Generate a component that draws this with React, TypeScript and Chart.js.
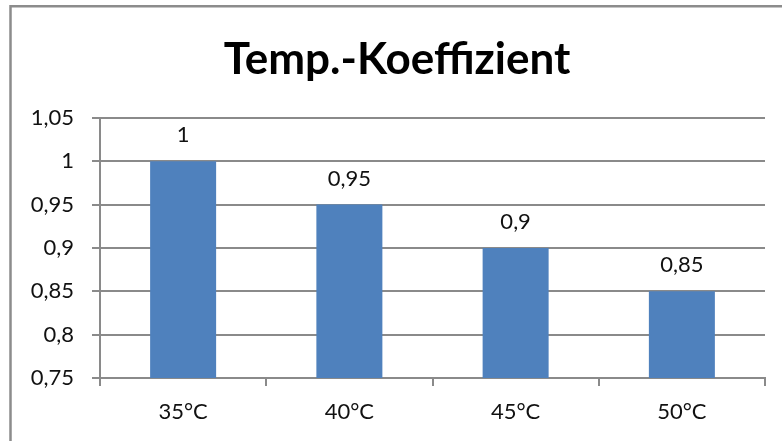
import React, { useEffect, useRef } from "react";
import { Chart, registerables } from "chart.js";

Chart.register(...registerables);

const categories = ["35°C", "40°C", "45°C", "50°C"];
const values = [1, 0.95, 0.9, 0.85];
const valueLabels = ["1", "0,95", "0,9", "0,85"];
const yTickValues = [0.75, 0.8, 0.85, 0.9, 0.95, 1, 1.05];
const yTickLabels = ["0,75", "0,8", "0,85", "0,9", "0,95", "1", "1,05"];
const titleText = "Temp.-Koeffizient";

const FONT = "Lato, 'Open Sans', sans-serif";
const GRID = "#8a8a8a";
const TEXT = "#111111";
const PAD_LEFT = 29;

export default function App() {
  const ref = useRef<HTMLCanvasElement | null>(null);

  useEffect(() => {
    if (!ref.current) return;

    const frame = {
      id: "frame",
      beforeDraw(chart: any) {
        const c = chart.ctx;
        c.save();
        c.strokeStyle = "#8c8c8c";
        c.lineWidth = 2.5;
        c.beginPath();
        c.moveTo(10.5, chart.height);
        c.lineTo(10.5, 6.3);
        c.lineTo(chart.width, 6.3);
        c.stroke();
        c.restore();
      },
    };

    const dataLabels = {
      id: "dataLabels",
      afterDatasetsDraw(chart: any) {
        const c = chart.ctx;
        const meta = chart.getDatasetMeta(0);
        c.save();
        c.font = `22px ${FONT}`;
        c.fillStyle = TEXT;
        c.textAlign = "center";
        c.textBaseline = "middle";
        meta.data.forEach((bar: any, i: number) => {
          c.fillText(valueLabels[i], bar.x, bar.y - 26);
        });
        c.restore();
      },
    };

    const chart = new Chart(ref.current, {
      type: "bar",
      data: {
        labels: categories,
        datasets: [
          {
            data: values,
            backgroundColor: "#4F81BD",
            borderWidth: 0,
            barPercentage: 0.397,
            categoryPercentage: 1,
          },
        ],
      },
      options: {
        responsive: false,
        animation: false,
        layout: { padding: { left: PAD_LEFT, right: 17, top: 0, bottom: 0 } },
        plugins: {
          legend: { display: false },
          tooltip: { enabled: false },
          title: {
            display: true,
            text: titleText,
            color: "#000",
            font: { family: FONT, size: 44, weight: "bold", lineHeight: 1.2 },
            padding: { top: 33, bottom: 32 },
          },
        },
        scales: {
          x: {
            afterFit(scale: any) {
              scale.height = 63;
            },
            grid: {
              display: true,
              drawOnChartArea: false,
              drawTicks: true,
              tickLength: 8,
              offset: true,
              color: GRID,
              lineWidth: 2,
            },
            border: { display: true, color: GRID, width: 2 },
            ticks: {
              color: TEXT,
              font: { family: FONT, size: 22 },
              padding: 13,
            },
          },
          y: {
            min: 0.75,
            max: 1.05,
            afterFit(scale: any) {
              scale.width = 100 - PAD_LEFT;
            },
            afterBuildTicks(scale: any) {
              scale.ticks = yTickValues.map((v) => ({ value: v }));
            },
            grid: {
              color: GRID,
              lineWidth: 2,
              tickLength: 8,
              drawTicks: true,
            },
            border: { display: true, color: GRID, width: 2 },
            ticks: {
              color: TEXT,
              font: { family: FONT, size: 22 },
              padding: 18,
              callback: (_v: any, i: number) => yTickLabels[i],
            },
          },
        },
      },
      plugins: [frame, dataLabels],
    });

    return () => chart.destroy();
  }, []);

  return (
    <div
      style={{
        position: "fixed",
        left: 0,
        top: 0,
        width: 782,
        height: 441,
        overflow: "hidden",
        background: "#fff",
      }}
    >
      <canvas ref={ref} width={782} height={441} style={{ display: "block" }} />
    </div>
  );
}
